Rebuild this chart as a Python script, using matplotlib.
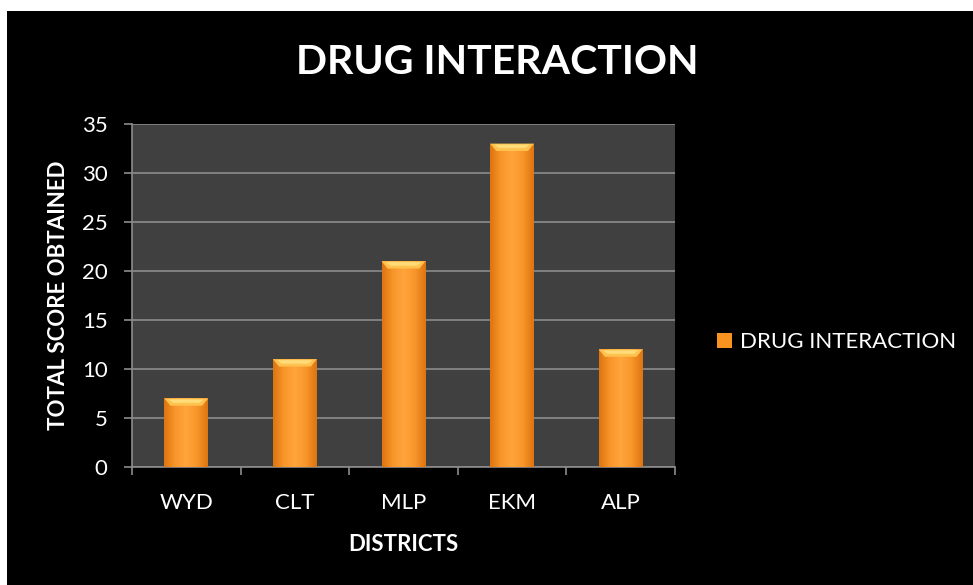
import matplotlib.pyplot as plt
import numpy as np
from matplotlib.patches import Rectangle
from matplotlib.colors import LinearSegmentedColormap

districts = ['WYD', 'CLT', 'MLP', 'EKM', 'ALP']
scores = [7, 11, 21, 33, 12]
series_name = 'DRUG INTERACTION'

plt.rcParams['font.family'] = ['Lato', 'DejaVu Sans']

fig = plt.figure(figsize=(9.73, 5.85), dpi=100)
fig.patch.set_facecolor('black')
# thin white strip at top and left as in source
fig.add_artist(Rectangle((0, 1 - 11 / 585), 1, 11 / 585, transform=fig.transFigure,
                         facecolor='white', edgecolor='none'))
fig.add_artist(Rectangle((0, 0), 7 / 973, 1, transform=fig.transFigure,
                         facecolor='white', edgecolor='none'))

ax = fig.add_axes([132 / 973, 1 - 467 / 585, 543 / 973, 343 / 585])
ax.set_facecolor('#404040')

x = np.arange(len(districts))
width = 0.405
bars = ax.bar(x, scores, width, color='#F7931E', edgecolor='none', zorder=3, label=series_name)

# shaded look for the bars
cmap = LinearSegmentedColormap.from_list('bevel', ['#DD7410', '#F8962A', '#FFA53C', '#F8962A', '#DD7410'])
grad = np.linspace(0, 1, 200).reshape(1, -1)
for b in bars:
    x0, w, h = b.get_x(), b.get_width(), b.get_height()
    im = ax.imshow(grad, cmap=cmap, extent=[x0, x0 + w, 0, h], aspect='auto', zorder=4)
    im.set_clip_path(b)
    cap = 0.75
    ax.fill([x0, x0 + w, x0 + w * 0.86, x0 + w * 0.14], [h, h, h - cap, h - cap],
            color='#FFC24E', zorder=5, lw=0)
    ax.fill([x0 + w * 0.1, x0 + w * 0.9, x0 + w * 0.8, x0 + w * 0.2],
            [h - 0.1, h - 0.1, h - cap * 0.6, h - cap * 0.6],
            color='#FFDC7A', zorder=6, lw=0)

ax.set_xlim(-0.5, len(districts) - 0.5)
ax.set_ylim(0, 35)
ax.set_yticks(range(0, 36, 5))
ax.yaxis.grid(True, color='#8C8C8C', lw=1.2, zorder=1)
ax.set_axisbelow(True)

ax.set_xticks(x)
ax.set_xticklabels(districts)
ax.set_xticks(np.arange(-0.5, len(districts), 1), minor=True)
ax.tick_params(axis='x', which='major', length=0, pad=19, labelsize=16, colors='white')
ax.tick_params(axis='x', which='minor', length=5.5, color='#8C8C8C', width=1.2)
ax.tick_params(axis='y', length=5.5, color='#8C8C8C', width=1.2, labelsize=16,
               labelcolor='white', pad=12)

for s in ['top', 'right']:
    ax.spines[s].set_visible(False)
for s in ['left', 'bottom']:
    ax.spines[s].set_color('#8C8C8C')
    ax.spines[s].set_linewidth(1.2)

ax.set_xlabel('DISTRICTS', color='white', fontsize=16, fontweight='bold', labelpad=15)
ax.set_ylabel('TOTAL SCORE OBTAINED', color='white', fontsize=16, fontweight='bold', labelpad=9)

fig.text(497 / 973, 1 - 63 / 585, 'DRUG INTERACTION', color='white', fontsize=29.5,
         fontweight='bold', ha='center', va='center')

leg = ax.legend(loc='center left', bbox_to_anchor=(1.077, 0.364), frameon=False,
                fontsize=16, handlelength=0.68, handleheight=0.7, handletextpad=0.36,
                borderpad=0, borderaxespad=0)
for t in leg.get_texts():
    t.set_color('white')

plt.savefig('out.png', dpi=100, facecolor=fig.get_facecolor())
